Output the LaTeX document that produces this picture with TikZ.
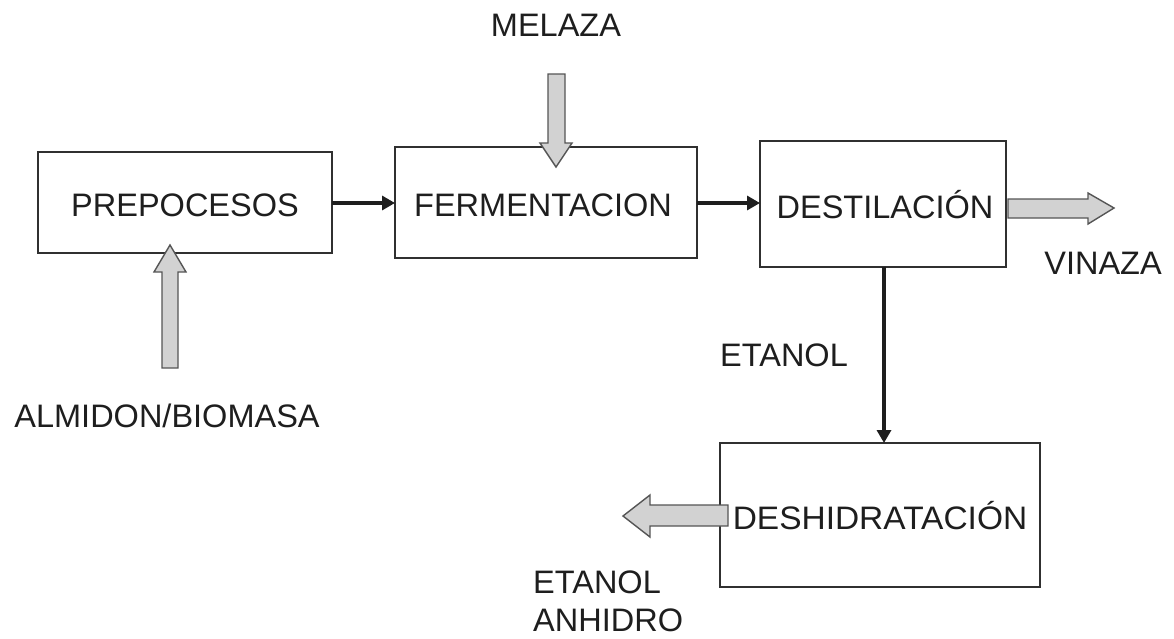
\documentclass[tikz,border=0pt]{standalone}
\usepackage{fontspec}
\setmainfont{Liberation Sans}
\usetikzlibrary{arrows.meta}
\definecolor{ink}{HTML}{1E1E1E}
\definecolor{boxline}{HTML}{303030}
\definecolor{pipefill}{HTML}{D2D2D2}
\definecolor{pipeline}{HTML}{555555}
\tikzset{
  every node/.style={font=\fontsize{32.5}{38}\selectfont, text=ink, inner sep=0pt},
  stage/.style={draw=boxline, line width=1.6pt, fill=white},
  label/.style={anchor=center},
  flow/.style={draw=ink, line width=3.2pt, -{Triangle[length=13pt,width=14pt]}},
  pipe/.style={draw=pipeline, line width=1.4pt, fill=pipefill, line join=miter}
}
\begin{document}
\begin{tikzpicture}[x=1pt,y=-1pt]
\useasboundingbox (0,0) rectangle (1174,638);
\fill[white] (0,0) rectangle (1174,638);

% process stages
\draw[stage] (38,152) rectangle (332,253);
\draw[stage] (395,147) rectangle (697,258);
\draw[stage] (760,141) rectangle (1006,267);
\draw[stage] (720,443) rectangle (1040,587);
\coordinate (pre-e) at (332,203);
\coordinate (fer-w) at (395,203);
\coordinate (fer-e) at (697,203);
\coordinate (des-w) at (760,203);
\coordinate (des-s) at (884,267);
\coordinate (deh-n) at (884,443);

\node[label] (pre) at (185,205) {PREPOCESOS};
\node[label] (fer) at (543,205) {FERMENTACION};
\node[label] (des) at (885,205) {DESTILACIÓN};
\node[label,xscale=1.03] (deh) at (880,516) {DESHIDRATACIÓN};

% main flow
\draw[flow] (pre-e) -- (fer-w);
\draw[flow] (fer-e) -- (des-w);
\draw[flow] (des-s) -- (deh-n);

% side streams (block arrows)
\draw[pipe] (548,74) -- (565,74) -- (565,143) -- (572,143) -- (556,167) -- (540,143) -- (548,143) -- cycle;
\draw[pipe] (1008,199) -- (1088,199) -- (1088,193) -- (1114,208) -- (1088,224) -- (1088,218) -- (1008,218) -- cycle;
\draw[pipe] (728,505) -- (650,505) -- (650,495) -- (623,516) -- (650,537) -- (650,526) -- (728,526) -- cycle;
\draw[pipe] (162,368) -- (178,368) -- (178,272) -- (186,272) -- (170,245) -- (154,272) -- (162,272) -- cycle;

% stream names
\node[label] (melaza) at (556,25) {MELAZA};
\node[label] (vinaza) at (1103,263) {VINAZA};
\node[label] (etanol) at (784,355) {ETANOL};
\node[label] (almidon) at (167,416) {ALMIDON/BIOMASA};
\node[label,anchor=west] (etanol2) at (533,582) {ETANOL};
\node[label,anchor=west] (anhidro) at (533,620) {ANHIDRO};
\end{tikzpicture}
\end{document}
